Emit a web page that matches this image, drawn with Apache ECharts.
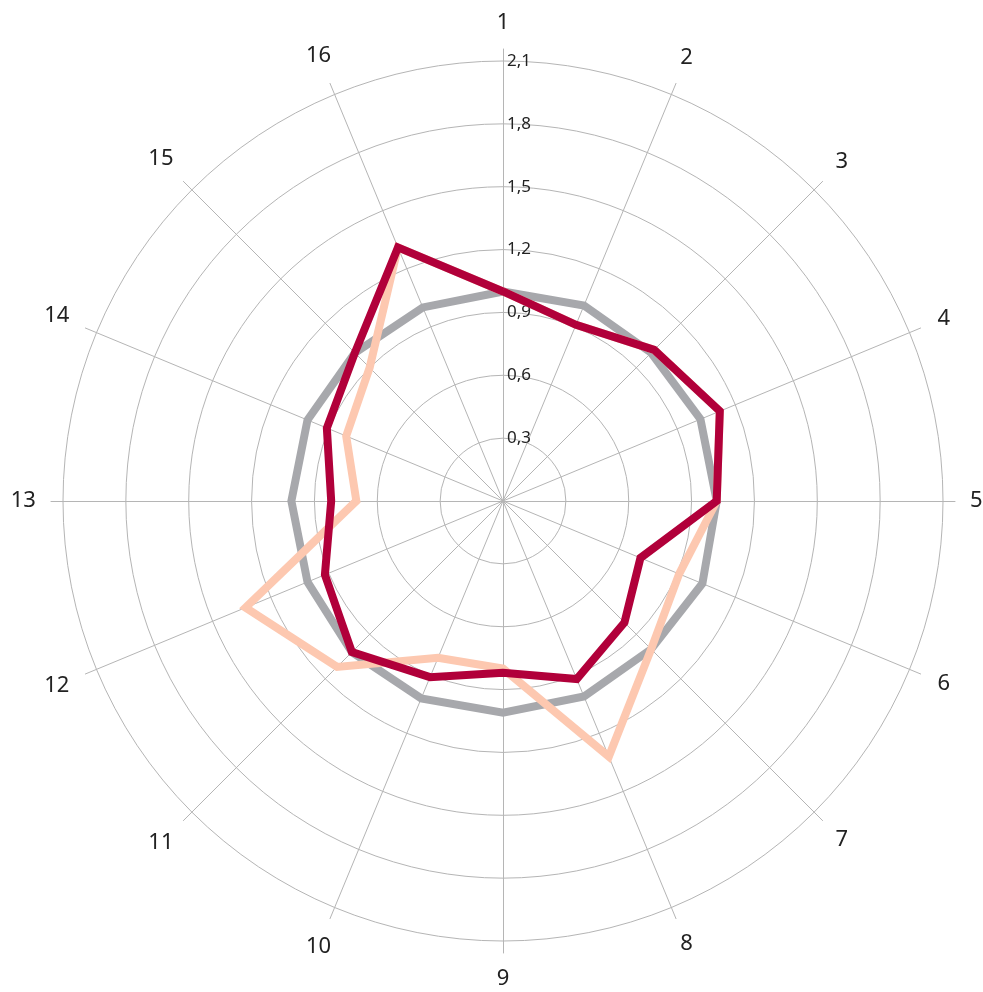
<!DOCTYPE html>
<html>
<head>
<meta charset="utf-8">
<script src="https://cdn.jsdelivr.net/npm/echarts@6/dist/echarts.min.js"></script>
<style>html,body{margin:0;padding:0;background:#fff}#c{width:983px;height:992px}</style>
</head>
<body>
<div id="c"></div>
<script>
const categories = ['1','2','3','4','5','6','7','8','9','10','11','12','13','14','15','16'];
const greySeries = [1.00,1.01,1.00,1.02,1.02,1.03,1.00,1.01,1.01,1.02,1.02,1.01,1.01,1.01,1.00,1.00];
const peachSeries = [1.00,0.91,1.02,1.12,1.02,0.91,1.00,1.32,0.80,0.81,1.12,1.33,0.70,0.81,0.90,1.31];
const crimsonSeries = [1.00,0.91,1.02,1.12,1.02,0.71,0.82,0.92,0.82,0.91,1.02,0.92,0.82,0.91,1.00,1.31];
const ringTicks = [0.3,0.6,0.9,1.2,1.5,1.8,2.1];

const axisMax = ringTicks[ringTicks.length-1];
// ECharts radar runs counter-clockwise; reorder so the chart runs clockwise
const order = [0];
for (let i = categories.length-1; i >= 1; i--) order.push(i);
const reorder = arr => order.map(i => arr[i]);

const FONT = 'Noto Sans';
const NAME_SIZE = 22;
// gap so that each name's text box sits just outside a common ring
function nameGapFor(name, idx) {
  const th = idx * 2 * Math.PI / categories.length;
  const w = name.length * NAME_SIZE * 0.58, h = NAME_SIZE;
  return 27 + (w / 2) * Math.abs(Math.sin(th)) + (h / 2) * Math.abs(Math.cos(th));
}

const indicators = order.map((ci, k) => {
  const name = categories[ci];
  const ind = { name: name, max: axisMax, min: 0, nameGap: nameGapFor(name, ci) };
  if (k === 0) {
    ind.axisLabel = {
      show: true, color: '#222', fontSize: 17, fontFamily: FONT,
      margin: -4, align: 'left', verticalAlign: 'middle',
      formatter: v => v === 0 ? '' : Number(v).toFixed(1).replace('.', ',')
    };
  }
  return ind;
});

const chart = echarts.init(document.getElementById('c'));
chart.setOption({
  animation: false,
  backgroundColor: '#fff',
  radar: [{
    center: [503, 501],
    radius: 440,
    startAngle: 90,
    shape: 'circle',
    splitNumber: ringTicks.length,
    indicator: indicators,
    axisName: { color: '#222', fontSize: NAME_SIZE, fontFamily: FONT, align: 'center', verticalAlign: 'middle' },
    nameGap: 38,
    axisLine: { show: false },
    axisTick: { show: false },
    axisLabel: { show: false },
    splitLine: { lineStyle: { color: '#b5b5b5', width: 1 } },
    splitArea: { show: false }
  }, {
    center: [503, 501],
    radius: 452,
    startAngle: 90,
    shape: 'circle',
    splitNumber: 1,
    indicator: categories.map(n => ({ name: n, max: axisMax })),
    axisName: { show: false },
    axisLine: { show: true, lineStyle: { color: '#b5b5b5', width: 1 } },
    axisTick: { show: false },
    axisLabel: { show: false },
    splitLine: { show: false },
    splitArea: { show: false }
  }],
  series: [
    { type: 'radar', radarIndex: 0, symbol: 'none', z: 2,
      lineStyle: { color: '#a7a8ac', width: 8, join: 'miter' },
      data: [{ value: reorder(greySeries) }] },
    { type: 'radar', radarIndex: 0, symbol: 'none', z: 3,
      lineStyle: { color: '#fdc8b0', width: 8, join: 'miter' },
      data: [{ value: reorder(peachSeries) }] },
    { type: 'radar', radarIndex: 0, symbol: 'none', z: 4,
      lineStyle: { color: '#b1003a', width: 8, join: 'miter' },
      data: [{ value: reorder(crimsonSeries) }] }
  ]
});
</script>
</body>
</html>
